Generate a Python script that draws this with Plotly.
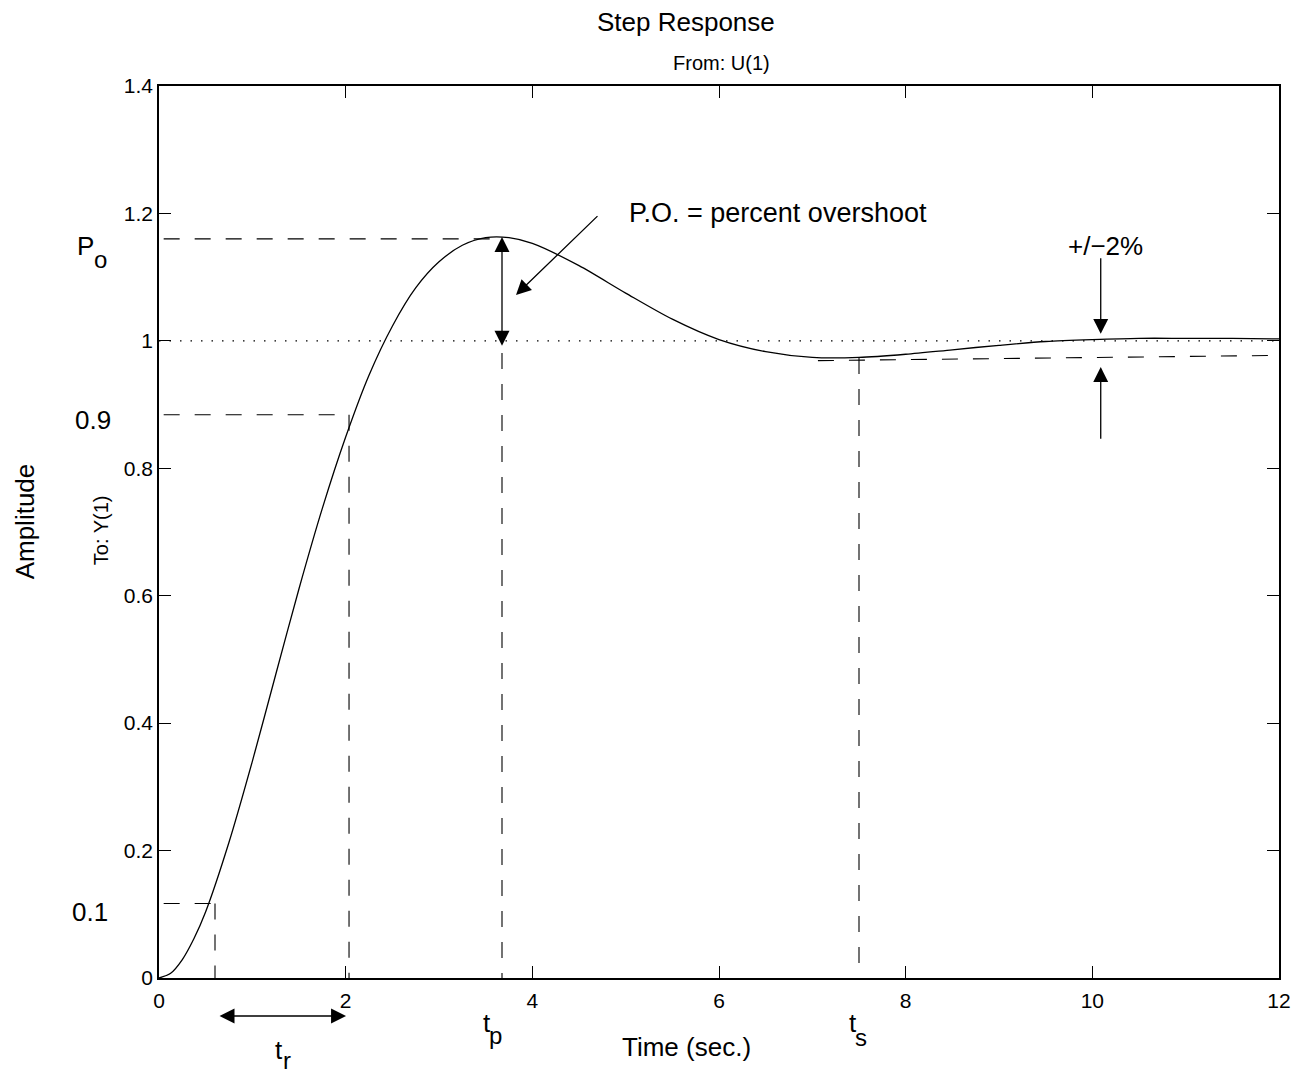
import plotly.graph_objects as go

# ---- data ----
time_s = [0, 0.125, 0.25, 0.375, 0.5, 0.75, 1.0, 1.25, 1.5, 1.75, 2.0, 2.25, 2.5, 2.75, 3.0, 3.25,
          3.5, 3.75, 4.0, 4.5, 5.0, 5.5, 6.0, 6.5, 7.0, 7.5, 8.0, 8.5, 9.0, 9.5,
          10.0, 10.5, 11.0, 11.5, 12.0]
amplitude = [0, 0.0075, 0.029, 0.062, 0.104, 0.213, 0.340, 0.476, 0.611, 0.737, 0.849, 0.946,
             1.023, 1.083, 1.124, 1.150, 1.162, 1.162, 1.153, 1.118, 1.075, 1.034,
             1.002, 0.983, 0.974, 0.974, 0.979, 0.986, 0.993, 0.999, 1.002, 1.004,
             1.004, 1.004, 1.003]

x_ticks = [0, 2, 4, 6, 8, 10, 12]
y_ticks = [0, 0.2, 0.4, 0.6, 0.8, 1.0, 1.2, 1.4]
y_tick_text = ["0", "0.2", "0.4", "0.6", "0.8", "1", "1.2", "1.4"]

steady_level = 1.0
peak_level = 1.16
peak_time = 3.675
rise_low_level = 0.117
rise_low_time = 0.60
rise_high_level = 0.884
rise_high_time = 2.036
settle_time = 7.50
settle_level = 0.973
band_t = [7.06, 11.90]
band_y = [0.969, 0.977]

FONT = "Liberation Sans, Arial, Helvetica, sans-serif"
BIG = 26
SMALL = 20
SUB = 24

fig = go.Figure()

# step response curve
fig.add_trace(go.Scatter(x=time_s, y=amplitude, mode="lines",
                         line=dict(color="black", width=1.3, shape="spline", smoothing=0.8),
                         hoverinfo="skip", showlegend=False))

dash = "16px,15px"
def guide(xs, ys, d=dash, w=1.1):
    fig.add_trace(go.Scatter(x=xs, y=ys, mode="lines", line=dict(color="black", width=w, dash=d),
                             hoverinfo="skip", showlegend=False))

# steady-state dotted line
guide([0, 12], [steady_level, steady_level], d="1.5px,9px", w=1.2)
# peak guide
guide([0.05, peak_time], [peak_level, peak_level])
guide([peak_time, peak_time], [0.981, 0])
# rise-time guides
guide([0.05, rise_low_time], [rise_low_level, rise_low_level])
guide([rise_low_time, rise_low_time], [rise_low_level, 0])
guide([0.05, rise_high_time], [rise_high_level, rise_high_level])
guide([rise_high_time, rise_high_time], [rise_high_level, 0])
# settling guides
guide([settle_time, settle_time], [settle_level, 0])
guide(band_t, band_y)

ann = []
ARROW = dict(showarrow=True, arrowhead=2, arrowsize=2.3, arrowwidth=1.3, arrowcolor="black", text="")

def arrow(x, y, ax, ay, both=False):
    d = dict(x=x, y=y, ax=ax, ay=ay, xref="x", yref="y", axref="x", ayref="y", **ARROW)
    if both:
        d.update(arrowside="end+start", startarrowhead=2, startarrowsize=2.3)
    ann.append(d)

arrow(peak_time, 1.163, peak_time, 0.990, both=True)
arrow(3.825, 1.072, 4.714, 1.198)
arrow(10.09, 1.011, 10.09, 1.132)
arrow(10.09, 0.959, 10.09, 0.844)
# rise-time span arrow below the axis (paper position, pixel length)
ann.append(dict(x=0.1670, y=-0.0426, xref="paper", yref="paper", ax=-128, ay=0,
                arrowside="end+start", startarrowhead=2, startarrowsize=2.3, **ARROW))

def label(text, x, y, size=BIG, xanchor="center", xref="paper", yref="paper", angle=0):
    ann.append(dict(text=text, x=x, y=y, xref=xref, yref=yref, showarrow=False, xanchor=xanchor,
                    yanchor="middle", textangle=angle, font=dict(family=FONT, size=size, color="black")))

label("P.O. = percent overshoot", 5.014, 1.2, size=27, xanchor="left", xref="x", yref="y")
label("+/\u22122%", 10.14, 1.149, xref="x", yref="y")
# symbol labels with large, low subscripts (as in the reference)
label("P", -0.0656, 0.8206)
label("o", -0.0518, 0.806, size=SUB)
label("t", 0.1071, -0.0807)
label("r", 0.1143, -0.0925, size=SUB)
label("t", 0.2929, -0.0504)
label("p", 0.3000, -0.0645, size=SUB)
label("t", 0.6192, -0.0504)
label("s", 0.6268, -0.0668, size=SUB)
label("0.9", -0.0585, 0.6256)
label("0.1", -0.0616, 0.074)
label("Time (sec.)", 0.4714, -0.0774)
label("Amplitude", -0.1196, 0.512, angle=-90)
label("To: Y(1)", -0.0518, 0.502, size=SMALL, angle=-90)
label("Step Response", 0.4705, 1.0717)
label("From: U(1)", 0.5018, 1.0258, size=SMALL)

axis_common = dict(showgrid=False, zeroline=False, showline=True, linecolor="black", linewidth=1.5,
                   mirror="ticks", ticks="inside", ticklen=12, tickwidth=1.3, tickcolor="black",
                   tickfont=dict(family=FONT, size=21, color="black"))

fig.update_layout(
    width=1311, height=1076,
    margin=dict(l=159, r=32, t=86, b=98),
    paper_bgcolor="white", plot_bgcolor="white",
    xaxis=dict(range=[0, 12], tickvals=x_ticks, ticktext=[str(v) for v in x_ticks],
               ticklabelstandoff=3, **axis_common),
    yaxis=dict(range=[0, 1.4], tickvals=y_ticks, ticktext=y_tick_text,
               ticklabelstandoff=0, **axis_common),
    annotations=ann,
    showlegend=False,
    hovermode=False,
)

fig.write_html("out.html", config={"displayModeBar": False})
